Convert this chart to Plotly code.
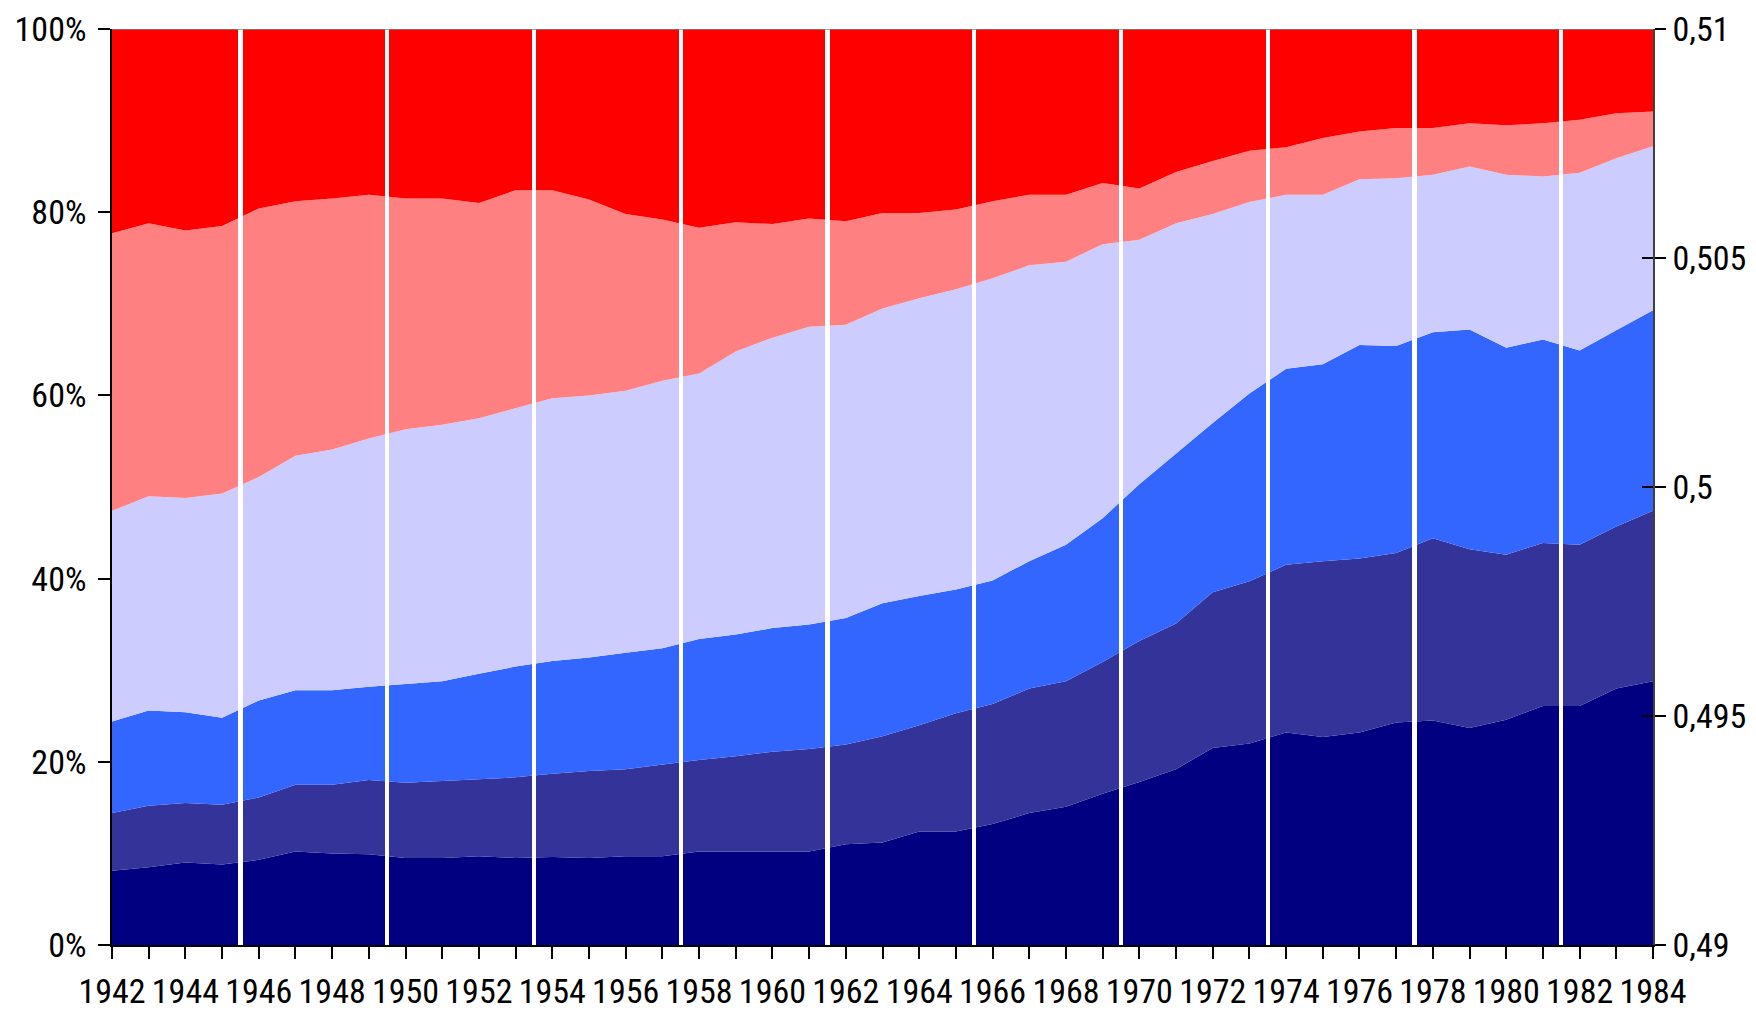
import plotly.graph_objects as go

# Shares per year (percent), bottom layer first
years = list(range(1942, 1985))

navy = [8.1, 8.5, 9.0, 8.8, 9.3, 10.2, 10.0, 9.9, 9.5, 9.5, 9.7, 9.5, 9.6, 9.5,
        9.7, 9.7, 10.2, 10.2, 10.2, 10.2, 11.0, 11.2, 12.4, 12.4, 13.2, 14.4, 15.1,
        16.5, 17.8, 19.2, 21.5, 22.0, 23.2, 22.7, 23.2, 24.3, 24.5, 23.7, 24.6,
        26.1, 26.1, 28.0, 28.8]
dark_blue = [6.3, 6.7, 6.5, 6.5, 6.8, 7.3, 7.5, 8.1, 8.2, 8.4, 8.4, 8.8, 9.1, 9.5,
             9.5, 10.0, 10.0, 10.4, 10.9, 11.2, 10.9, 11.6, 11.6, 12.9, 13.1, 13.6,
             13.7, 14.4, 15.4, 15.9, 17.0, 17.7, 18.3, 19.2, 19.0, 18.5, 19.9, 19.5,
             18.0, 17.8, 17.6, 17.7, 18.6]
blue = [10.0, 10.4, 9.9, 9.5, 10.6, 10.3, 10.3, 10.2, 10.8, 10.9, 11.5, 12.1, 12.3,
        12.4, 12.7, 12.7, 13.2, 13.3, 13.5, 13.6, 13.8, 14.5, 14.1, 13.5, 13.5, 13.9,
        14.9, 15.7, 17.1, 18.6, 18.5, 20.5, 21.4, 21.5, 23.3, 22.6, 22.5, 24.0, 22.6,
        22.2, 21.2, 21.4, 21.9]
lavender = [23.0, 23.4, 23.4, 24.5, 24.4, 25.6, 26.3, 27.1, 27.8, 28.0, 27.9, 28.2,
            28.7, 28.6, 28.6, 29.2, 29.0, 30.9, 31.7, 32.5, 32.0, 32.2, 32.5, 32.8,
            33.0, 32.3, 30.9, 29.9, 26.7, 25.1, 22.8, 20.9, 19.0, 18.5, 18.1, 18.3,
            17.2, 17.8, 18.9, 17.8, 19.4, 18.8, 17.9]
salmon = [30.3, 29.8, 29.2, 29.2, 29.3, 27.8, 27.4, 26.6, 25.2, 24.7, 23.5, 23.8,
          22.7, 21.4, 19.3, 17.6, 15.9, 14.1, 12.4, 11.8, 11.3, 10.4, 9.3, 8.7, 8.4,
          7.7, 7.3, 6.7, 5.6, 5.6, 5.8, 5.6, 5.2, 6.2, 5.2, 5.5, 5.1, 4.7, 5.4, 5.8,
          5.8, 4.9, 3.8]
red = [22.3, 21.2, 22.0, 21.5, 19.6, 18.8, 18.5, 18.1, 18.5, 18.5, 19.0, 17.6, 17.6,
       18.6, 20.2, 20.8, 21.7, 21.1, 21.3, 20.7, 21.0, 20.1, 20.1, 19.7, 18.8, 18.1,
       18.1, 16.8, 17.4, 15.6, 14.4, 13.3, 12.9, 11.9, 11.2, 10.8, 10.8, 10.3, 10.5,
       10.3, 9.9, 9.2, 9.0]

# election markers, drawn as full-height bars on the secondary axis
election_years = [1945, 1949, 1953, 1957, 1961, 1965, 1969, 1973, 1977, 1981]
election_value = 0.51

left_ticks = [0, 20, 40, 60, 80, 100]
left_labels = ["0%", "20%", "40%", "60%", "80%", "100%"]
right_ticks = [0.49, 0.495, 0.5, 0.505, 0.51]
right_labels = ["0,49", "0,495", "0,5", "0,505", "0,51"]

layers = [
    (navy, "#000080"),
    (dark_blue, "#333399"),
    (blue, "#3366FF"),
    (lavender, "#CCCCFF"),
    (salmon, "#FF8080"),
    (red, "#FF0000"),
]

FONT = "Roboto Condensed, Liberation Sans Narrow, Liberation Sans, Arial, sans-serif"

fig = go.Figure()

for vals, color in layers:
    fig.add_trace(go.Scatter(
        x=years, y=vals,
        mode="lines",
        stackgroup="one",
        groupnorm="percent",
        line=dict(width=0, color=color),
        fillcolor=color,
        showlegend=False,
        hoverinfo="skip",
    ))

fig.add_trace(go.Bar(
    x=[y + 0.5 for y in election_years],
    y=[election_value] * len(election_years),
    width=0.12,
    marker=dict(color="white", line=dict(width=0)),
    yaxis="y2",
    showlegend=False,
    hoverinfo="skip",
))

# dummy trace so the inner tick axis is drawn
fig.add_trace(go.Scatter(x=[None], y=[None], yaxis="y3", showlegend=False,
                         hoverinfo="skip"))

# thin grey border on top of the plot area
fig.add_shape(type="line", xref="paper", yref="y", x0=0, x1=1, y0=100, y1=100,
              line=dict(color="#808080", width=1.5))

# page body adds an 8px margin, so the figure is sized to end at the window edge
fig.update_layout(
    width=1748, height=1003,
    paper_bgcolor="white",
    plot_bgcolor="white",
    font=dict(family=FONT, size=34, color="black"),
    margin=dict(l=104, r=103, t=21, b=66),
    bargap=0,
    xaxis=dict(
        range=[1942, 1984],
        tickvals=years[::2],
        tickangle=0,
        ticks="outside", ticklen=12, tickwidth=1.5, tickcolor="black",
        minor=dict(dtick=1, tick0=1942, ticks="outside", ticklen=12,
                   tickwidth=1.5, tickcolor="black"),
        showline=True, linecolor="black", linewidth=1.5,
        showgrid=False, zeroline=False,
        ticklabelstandoff=3,
        automargin=False,
    ),
    yaxis=dict(
        range=[0, 100],
        tickvals=left_ticks, ticktext=left_labels,
        ticks="outside", ticklen=12, tickwidth=1.5, tickcolor="black",
        showline=True, linecolor="black", linewidth=1.5,
        showgrid=False, zeroline=False,
        ticklabelstandoff=5,
        automargin=False,
    ),
    yaxis2=dict(
        range=[0.49, 0.51],
        overlaying="y", side="right", anchor="x",
        tickvals=right_ticks, ticktext=right_labels,
        ticks="outside", ticklen=11, tickwidth=1.5, tickcolor="black",
        showline=True, linecolor="#404040", linewidth=1.5,
        showgrid=False, zeroline=False,
        ticklabelstandoff=0,
        automargin=False,
    ),
    yaxis3=dict(
        range=[0.49, 0.51],
        overlaying="y", side="right", anchor="x",
        tickvals=right_ticks, showticklabels=False,
        ticks="inside", ticklen=11, tickwidth=1.5, tickcolor="black",
        showline=False, showgrid=False, zeroline=False,
        automargin=False,
    ),
)

fig.write_html("out.html")
